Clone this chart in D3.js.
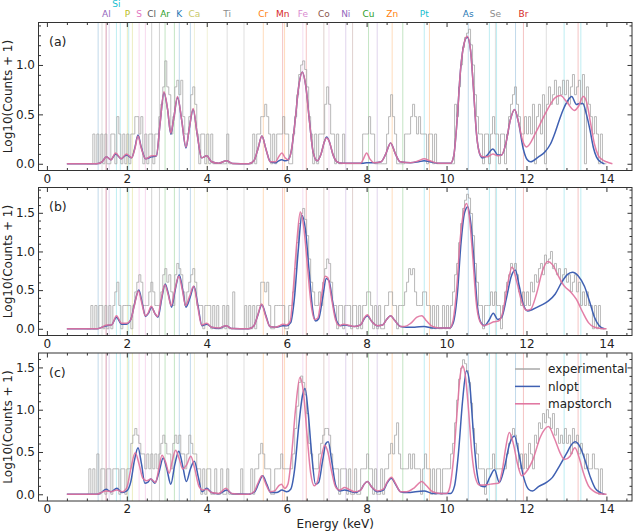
<!DOCTYPE html>
<html>
<head>
<meta charset="utf-8">
<script src="https://cdn.jsdelivr.net/npm/d3@7"></script>
<style>
  body { margin: 0; background: #fff; }
  svg text { font-family: "DejaVu Sans", sans-serif; }
</style>
</head>
<body>
<svg id="chart" width="640" height="532"></svg>
<script>

// experimental counts, 0.05 keV bins starting at 1.00 keV (one row per keV)
const binStart = 1.0
const binWidth = 0.05

const countsA = [
  0,0,0,1,0,1,0,1,0,1,0,0,1,1,0,2,1,0,1,0,
  1,0,1,1,2,2,1,2,0,1,0,1,1,0,1,1,2,3,5,10,
  5,4,1,2,5,6,4,6,2,1,1,2,4,5,3,1,0,1,1,0,
  1,0,1,0,0,0,0,0,0,0,1,0,0,0,0,0,0,0,0,0,
  0,0,0,1,0,1,1,2,2,3,2,1,0,1,0,1,1,1,2,1,
  1,0,0,1,2,4,7,9,10,8,5,2,1,0,1,0,1,1,1,3,
  5,3,1,1,0,1,0,0,1,0,0,0,0,0,0,0,0,0,1,1,
  1,2,1,1,0,0,0,0,0,0,1,2,4,2,1,0,0,0,0,1,
  1,1,2,3,2,1,2,1,1,1,0,1,1,0,1,0,0,0,0,0,
  0,0,0,0,3,2,5,9,14,18,20,22,15,9,4,2,1,1,0,1,
  1,0,1,2,1,1,0,1,1,0,1,2,3,4,5,3,2,1,1,2,
  1,2,1,3,0,2,3,1,4,0,3,5,3,4,6,3,5,4,6,4,
  6,3,5,7,4,5,6,3,7,0,5,3,2,1,2,1,0,1,0,0
]

const countsB = [
  0,0,1,0,1,0,1,1,0,1,0,1,0,1,2,3,1,0,1,1,
  1,1,0,1,2,3,4,3,1,1,1,2,3,2,1,1,1,2,4,5,
  3,4,2,1,4,6,5,4,2,1,2,3,4,5,3,1,1,1,0,1,
  1,1,0,1,0,1,0,0,1,0,1,0,0,2,0,0,0,0,0,1,
  0,1,0,1,0,1,1,3,3,2,3,1,0,0,1,1,1,1,1,0,
  0,1,1,2,5,12,22,30,35,25,15,7,3,2,1,1,2,1,3,5,
  7,6,3,1,1,0,1,1,0,1,1,1,0,1,1,0,1,0,1,1,
  2,2,1,0,1,0,1,0,0,1,1,2,2,1,1,0,1,1,1,2,
  3,5,4,5,2,1,1,1,2,2,1,1,0,1,0,1,0,0,1,0,
  1,0,1,2,4,6,12,22,35,45,54,48,30,15,6,3,1,1,0,1,
  1,1,2,1,2,1,1,0,1,2,3,4,6,5,6,4,2,1,2,1,
  2,1,3,2,4,3,5,6,4,8,6,7,9,5,6,4,5,3,4,5,
  3,4,2,3,4,2,3,1,2,1,2,1,1,0,1,0,1,0,0,0
]

const countsC = [
  0,1,0,1,0,2,0,1,1,0,1,1,0,1,1,1,0,1,1,0,
  1,1,3,4,5,4,3,2,2,1,2,1,2,1,2,1,2,3,4,3,
  2,2,1,3,4,3,4,2,2,1,2,4,3,2,2,1,1,0,1,0,
  1,1,0,0,1,0,0,1,0,0,1,0,0,0,0,0,0,1,0,0,
  0,0,1,0,1,1,2,3,2,1,1,1,0,0,1,1,1,2,1,1,
  1,1,1,2,5,10,20,24,20,14,8,3,2,1,1,1,2,3,4,5,
  5,4,2,1,1,1,0,1,1,1,0,1,0,0,1,0,0,1,1,1,
  2,1,1,0,1,0,0,1,0,1,1,2,3,2,4,6,2,1,1,1,
  1,2,1,2,1,1,1,0,1,2,1,1,0,1,0,1,1,0,1,1,
  1,1,2,3,6,12,22,30,38,34,28,20,11,5,3,2,1,1,1,0,
  1,1,1,2,1,1,1,1,1,1,2,3,4,5,4,3,1,2,1,2,
  1,3,2,1,4,3,6,5,8,6,9,7,5,8,4,5,3,4,3,5,
  3,4,2,5,3,4,2,3,2,1,2,1,1,2,1,1,0,1,0,0
]

// fitted spectra, [energy keV, log10(counts + 1)]
const nloptA = [[0.5,0],[1.25,0],[1.38,0.02],[1.49,0.07],[1.6,0.04],[1.72,0.1],[1.86,0.05],[1.99,0.09],[2.12,0.06],[2.2,0.16],[2.28,0.29],[2.36,0.17],[2.47,0.05],[2.62,0.07],[2.74,0.08],[2.83,0.4],[2.93,0.72],[3.02,0.55],[3.1,0.3],[3.17,0.45],[3.27,0.67],[3.37,0.45],[3.48,0.16],[3.56,0.35],[3.66,0.55],[3.76,0.3],[3.87,0.06],[4.0,0.08],[4.12,0.02],[4.3,0.005],[4.49,0.03],[4.65,0.003],[5.05,0],[5.18,0.03],[5.28,0.15],[5.38,0.28],[5.48,0.15],[5.59,0.02],[5.72,0.01],[5.8,0.03],[5.88,0.04],[5.96,0.03],[6.04,0.04],[6.12,0.14],[6.21,0.43],[6.3,0.78],[6.39,0.93],[6.48,0.78],[6.57,0.43],[6.66,0.12],[6.76,0.03],[6.86,0.1],[6.94,0.22],[7.0,0.27],[7.07,0.22],[7.16,0.09],[7.26,0.02],[7.4,0.005],[7.9,0.005],[8.0,0.01],[8.2,0.01],[8.36,0.02],[8.48,0.1],[8.6,0.21],[8.72,0.1],[8.84,0.02],[9.1,0.01],[9.3,0.02],[9.44,0.03],[9.58,0.02],[9.8,0.005],[10.1,0.005],[10.18,0.08],[10.26,0.42],[10.35,0.95],[10.44,1.22],[10.52,1.28],[10.6,1.15],[10.67,0.78],[10.75,0.3],[10.83,0.1],[10.9,0.06],[11.0,0.08],[11.16,0.15],[11.28,0.09],[11.38,0.09],[11.48,0.2],[11.6,0.45],[11.7,0.55],[11.8,0.42],[11.92,0.15],[12.02,0.04],[12.1,0.02],[12.3,0.07],[12.46,0.12],[12.6,0.2],[12.71,0.31],[12.82,0.44],[12.92,0.55],[13.02,0.63],[13.13,0.68],[13.25,0.6],[13.33,0.61],[13.41,0.61],[13.5,0.5],[13.59,0.34],[13.67,0.17],[13.75,0.07],[13.85,0.02],[13.95,0]]

const mapstorchA = [[0.5,0],[1.25,0],[1.38,0.02],[1.49,0.07],[1.6,0.04],[1.72,0.11],[1.86,0.05],[1.99,0.1],[2.12,0.06],[2.2,0.15],[2.28,0.28],[2.36,0.16],[2.47,0.05],[2.62,0.08],[2.74,0.08],[2.83,0.4],[2.93,0.73],[3.02,0.55],[3.1,0.31],[3.17,0.45],[3.27,0.68],[3.37,0.45],[3.48,0.17],[3.56,0.35],[3.66,0.56],[3.76,0.3],[3.87,0.06],[4.0,0.08],[4.12,0.02],[4.3,0.005],[4.49,0.03],[4.65,0.003],[5.05,0],[5.18,0.03],[5.28,0.15],[5.38,0.28],[5.48,0.15],[5.59,0.02],[5.72,0.02],[5.8,0.07],[5.88,0.11],[5.96,0.06],[6.04,0.04],[6.12,0.14],[6.21,0.43],[6.3,0.78],[6.39,0.93],[6.48,0.78],[6.57,0.43],[6.66,0.12],[6.76,0.03],[6.86,0.1],[6.94,0.22],[7.0,0.26],[7.07,0.22],[7.16,0.09],[7.26,0.02],[7.4,0.005],[7.85,0.005],[7.92,0.05],[8.0,0.11],[8.08,0.05],[8.2,0.01],[8.36,0.02],[8.48,0.1],[8.6,0.21],[8.72,0.1],[8.84,0.02],[9.1,0.01],[9.3,0.03],[9.44,0.05],[9.58,0.03],[9.8,0.005],[10.1,0.005],[10.18,0.08],[10.26,0.42],[10.35,0.95],[10.44,1.22],[10.52,1.29],[10.6,1.15],[10.67,0.78],[10.75,0.3],[10.83,0.1],[10.9,0.07],[11.02,0.07],[11.16,0.1],[11.28,0.08],[11.38,0.09],[11.48,0.2],[11.6,0.45],[11.7,0.55],[11.8,0.42],[11.9,0.24],[12.0,0.17],[12.25,0.33],[12.5,0.53],[12.72,0.67],[12.85,0.69],[13.0,0.63],[13.2,0.54],[13.3,0.58],[13.42,0.68],[13.5,0.63],[13.6,0.42],[13.7,0.2],[13.8,0.08],[13.9,0.04],[14.0,0.02],[14.15,0]]

const nloptB = [[0.5,0],[1.25,0],[1.38,0.02],[1.5,0.04],[1.62,0.05],[1.74,0.15],[1.87,0.06],[1.99,0.06],[2.1,0.12],[2.2,0.34],[2.3,0.5],[2.39,0.32],[2.47,0.16],[2.54,0.2],[2.62,0.28],[2.7,0.2],[2.78,0.15],[2.87,0.38],[2.96,0.58],[3.04,0.45],[3.12,0.28],[3.21,0.5],[3.31,0.7],[3.4,0.5],[3.48,0.28],[3.58,0.4],[3.68,0.55],[3.78,0.3],[3.88,0.04],[4.0,0.06],[4.12,0.02],[4.3,0.005],[4.49,0.04],[4.62,0.005],[5.05,0],[5.18,0.04],[5.28,0.18],[5.38,0.31],[5.48,0.17],[5.58,0.03],[5.72,0.02],[5.82,0.03],[5.9,0.04],[6.0,0.04],[6.1,0.08],[6.19,0.38],[6.29,1.02],[6.38,1.47],[6.47,1.28],[6.56,0.75],[6.65,0.25],[6.72,0.1],[6.8,0.13],[6.9,0.4],[6.99,0.65],[7.06,0.62],[7.15,0.35],[7.25,0.1],[7.35,0.04],[7.45,0.05],[7.55,0.04],[7.7,0.03],[7.85,0.05],[7.94,0.13],[8.02,0.17],[8.12,0.1],[8.27,0.04],[8.4,0.05],[8.5,0.12],[8.6,0.17],[8.7,0.11],[8.85,0.03],[9.0,0.02],[9.2,0.02],[9.44,0.03],[9.65,0.01],[10.08,0.01],[10.17,0.08],[10.27,0.45],[10.36,1.1],[10.45,1.5],[10.53,1.58],[10.61,1.35],[10.69,0.85],[10.77,0.3],[10.86,0.08],[10.95,0.04],[11.05,0.1],[11.17,0.2],[11.28,0.12],[11.38,0.15],[11.5,0.4],[11.62,0.68],[11.72,0.76],[11.82,0.55],[11.93,0.3],[12.03,0.23],[12.15,0.25],[12.35,0.3],[12.55,0.36],[12.72,0.45],[12.88,0.6],[13.02,0.7],[13.15,0.73],[13.3,0.68],[13.45,0.55],[13.58,0.35],[13.7,0.15],[13.82,0.04],[13.95,0]]

const mapstorchB = [[0.5,0],[1.25,0],[1.38,0.02],[1.5,0.05],[1.62,0.05],[1.74,0.17],[1.87,0.07],[1.99,0.07],[2.1,0.12],[2.2,0.33],[2.29,0.49],[2.38,0.32],[2.46,0.17],[2.53,0.2],[2.61,0.29],[2.7,0.2],[2.77,0.16],[2.86,0.38],[2.95,0.57],[3.03,0.45],[3.11,0.3],[3.2,0.5],[3.3,0.68],[3.39,0.5],[3.47,0.3],[3.57,0.42],[3.67,0.55],[3.77,0.3],[3.87,0.05],[4.0,0.07],[4.12,0.02],[4.3,0.01],[4.48,0.04],[4.62,0.005],[5.05,0],[5.18,0.04],[5.28,0.18],[5.37,0.32],[5.47,0.17],[5.58,0.03],[5.72,0.02],[5.82,0.04],[5.9,0.06],[6.0,0.05],[6.09,0.1],[6.16,0.48],[6.25,1.1],[6.34,1.51],[6.43,1.3],[6.52,0.8],[6.61,0.32],[6.7,0.12],[6.78,0.14],[6.87,0.42],[6.96,0.68],[7.03,0.66],[7.12,0.4],[7.22,0.12],[7.32,0.04],[7.42,0.06],[7.52,0.05],[7.7,0.03],[7.85,0.05],[7.94,0.14],[8.02,0.18],[8.12,0.1],[8.27,0.04],[8.4,0.05],[8.5,0.12],[8.6,0.17],[8.7,0.11],[8.85,0.03],[8.95,0.03],[9.1,0.07],[9.26,0.15],[9.38,0.17],[9.5,0.1],[9.65,0.03],[9.85,0.01],[10.08,0.01],[10.16,0.1],[10.25,0.5],[10.34,1.15],[10.43,1.52],[10.5,1.62],[10.58,1.4],[10.66,0.9],[10.74,0.35],[10.83,0.1],[10.93,0.04],[11.05,0.06],[11.18,0.09],[11.3,0.1],[11.4,0.2],[11.52,0.55],[11.64,0.8],[11.76,0.6],[11.88,0.35],[12.0,0.24],[12.1,0.25],[12.25,0.45],[12.4,0.75],[12.53,0.87],[12.65,0.83],[12.8,0.68],[12.95,0.55],[13.1,0.48],[13.25,0.38],[13.4,0.22],[13.55,0.08],[13.7,0.02],[13.85,0.005],[14.0,0]]

const nloptC = [[0.5,0],[1.25,0],[1.36,0.02],[1.48,0.06],[1.6,0.03],[1.75,0.07],[1.88,0.02],[2.0,0.04],[2.1,0.15],[2.19,0.4],[2.28,0.55],[2.37,0.35],[2.45,0.13],[2.52,0.14],[2.6,0.18],[2.7,0.13],[2.8,0.25],[2.91,0.43],[3.0,0.3],[3.1,0.12],[3.2,0.35],[3.3,0.51],[3.4,0.33],[3.49,0.15],[3.59,0.3],[3.69,0.39],[3.79,0.2],[3.88,0.03],[4.0,0.07],[4.12,0.02],[4.3,0.005],[4.5,0.05],[4.64,0.005],[5.05,0],[5.2,0.03],[5.3,0.13],[5.4,0.22],[5.5,0.12],[5.6,0.02],[5.75,0.02],[5.88,0.05],[6.0,0.03],[6.1,0.06],[6.2,0.3],[6.3,0.8],[6.4,1.18],[6.46,1.25],[6.54,0.95],[6.63,0.45],[6.72,0.12],[6.8,0.14],[6.9,0.4],[6.98,0.6],[7.04,0.62],[7.13,0.38],[7.23,0.1],[7.33,0.04],[7.45,0.05],[7.55,0.04],[7.7,0.02],[7.85,0.05],[7.94,0.12],[8.02,0.15],[8.12,0.09],[8.27,0.03],[8.42,0.05],[8.52,0.14],[8.62,0.19],[8.72,0.12],[8.85,0.03],[9.0,0.02],[9.44,0.04],[9.65,0.01],[10.1,0.01],[10.2,0.1],[10.3,0.5],[10.4,1.1],[10.5,1.46],[10.58,1.3],[10.66,0.8],[10.75,0.3],[10.85,0.1],[10.96,0.09],[11.08,0.2],[11.2,0.29],[11.32,0.14],[11.44,0.3],[11.58,0.6],[11.7,0.69],[11.8,0.5],[11.93,0.2],[12.05,0.06],[12.15,0.04],[12.3,0.09],[12.5,0.14],[12.65,0.2],[12.82,0.33],[13.0,0.48],[13.15,0.6],[13.22,0.62],[13.35,0.55],[13.48,0.38],[13.6,0.2],[13.72,0.07],[13.85,0.02],[13.95,0]]

const mapstorchC = [[0.5,0],[1.25,0],[1.36,0.02],[1.48,0.04],[1.6,0.03],[1.75,0.05],[1.88,0.03],[2.0,0.08],[2.1,0.3],[2.21,0.49],[2.31,0.35],[2.4,0.19],[2.5,0.16],[2.6,0.18],[2.72,0.14],[2.8,0.3],[2.88,0.46],[2.97,0.38],[3.06,0.25],[3.14,0.4],[3.22,0.52],[3.31,0.42],[3.4,0.3],[3.5,0.35],[3.6,0.45],[3.7,0.3],[3.8,0.1],[3.9,0.05],[4.0,0.06],[4.12,0.02],[4.3,0.01],[4.48,0.07],[4.62,0.01],[5.05,0],[5.18,0.03],[5.28,0.13],[5.38,0.22],[5.48,0.12],[5.58,0.03],[5.7,0.04],[5.8,0.1],[5.87,0.12],[5.95,0.07],[6.03,0.12],[6.12,0.45],[6.22,1.0],[6.33,1.38],[6.42,1.2],[6.51,0.7],[6.6,0.25],[6.69,0.1],[6.77,0.15],[6.86,0.42],[6.95,0.58],[7.03,0.5],[7.12,0.28],[7.22,0.09],[7.32,0.05],[7.45,0.08],[7.55,0.06],[7.7,0.03],[7.85,0.05],[7.94,0.12],[8.02,0.15],[8.12,0.09],[8.27,0.04],[8.42,0.06],[8.52,0.15],[8.62,0.2],[8.72,0.13],[8.85,0.03],[9.0,0.03],[9.2,0.08],[9.38,0.15],[9.5,0.1],[9.65,0.03],[9.85,0.01],[10.0,0.01],[10.08,0.08],[10.17,0.4],[10.26,0.95],[10.34,1.4],[10.4,1.52],[10.47,1.4],[10.55,1.0],[10.63,0.5],[10.72,0.2],[10.82,0.11],[10.95,0.11],[11.1,0.12],[11.3,0.13],[11.4,0.3],[11.48,0.55],[11.57,0.73],[11.67,0.6],[11.78,0.35],[11.88,0.22],[12.0,0.27],[12.16,0.41],[12.35,0.68],[12.55,0.8],[12.7,0.66],[12.85,0.48],[12.95,0.41],[13.09,0.45],[13.21,0.55],[13.32,0.43],[13.42,0.26],[13.55,0.1],[13.67,0.04],[13.8,0.01],[14.0,0]]

// element emission lines (keV), first line is where the label goes
const elementNames = ["Al","Si","P","S","Cl","Ar","K","Ca","Ti","Cr","Mn","Fe","Co","Ni","Cu","Zn","Pt","As","Se","Br"]
const elementColors = ["#9467bd","#17becf","#bcbd22","#e377c2","#595959","#2ca02c","#1f77b4","#c9c96a","#8c8c8c","#ff7f0e","#d62728","#d98ad0","#8c564b","#9467bd","#2ca02c","#ff7f0e","#17becf","#1f77b4","#8c8c8c","#d62728"]
const elementLines = [
  [1.487,1.557],[1.740,1.836],[2.013,2.139],[2.307,2.464],[2.622,2.816],
  [2.957,3.190],[3.313,3.590],[3.691,4.013],[4.511,4.932],[5.415,5.947],
  [5.899,6.490],[6.404,7.058],[6.930,7.649],[7.478,8.265],[8.048,8.905],
  [8.639,9.572],[9.442,2.048,11.071,11.251,12.942,13.36],[10.543,1.282,11.726],
  [11.222,1.379,12.496],[11.924,1.480,13.291]
]

const panelLabels = ["(a)","(b)","(c)"]
const seriesNames = ["experimental","nlopt","mapstorch"]
const seriesColors = ["#a8a8a8","#3f60b2","#e0719d"]

const panels = [
  {counts: countsA, nlopt: nloptA, mapstorch: mapstorchA},
  {counts: countsB, nlopt: nloptB, mapstorch: mapstorchB},
  {counts: countsC, nlopt: nloptC, mapstorch: mapstorchC}
]

// layout
const plotLeft = 38.5, plotRight = 632
const panelTops = [22.5, 187.5, 353]
const panelH = 148

const svg = d3.select("#chart")

const x = d3.scaleLinear()
  .domain([-0.21, 14.64])
  .range([plotLeft, plotRight])

// element labels on top
elementNames.forEach(function(name, i) {
  svg.append("text")
    .attr("x", x(elementLines[i][0]))
    .attr("y", name == "Si" ? 6.5 : 17.3)
    .attr("text-anchor", "middle")
    .attr("font-size", 9)
    .attr("fill", elementColors[i])
    .text(name)
})

panels.forEach(function(p, k) {

  var top = panelTops[k]
  var bottom = top + panelH
  var logs = p.counts.map(c => Math.log10(c + 1))
  var ymax = d3.max(logs.concat(p.nlopt.map(d => d[1]), p.mapstorch.map(d => d[1])))

  var y = d3.scaleLinear()
    .domain([-0.05 * ymax, 1.05 * ymax])
    .range([bottom, top])

  var g = svg.append("g")

  // faint element lines
  elementLines.forEach(function(lines, i) {
    g.selectAll(null)
      .data(lines)
      .enter().append("line")
        .attr("x1", d => x(d)).attr("x2", d => x(d))
        .attr("y1", top).attr("y2", bottom)
        .attr("stroke", elementColors[i])
        .attr("stroke-opacity", 0.28)
        .attr("stroke-width", 1)
  })

  // experimental step spectrum
  var expPts = logs.map((v, i) => [binStart + i * binWidth, v])
  expPts.push([binStart + logs.length * binWidth, 0])

  var stepLine = d3.line()
    .x(d => x(d[0]))
    .y(d => y(d[1]))
    .curve(d3.curveStepAfter)

  g.append("path")
    .attr("d", stepLine(expPts))
    .attr("fill", "none")
    .attr("stroke", seriesColors[0])
    .attr("stroke-width", 1)
    .attr("stroke-opacity", 0.8)

  var fitLine = d3.line()
    .x(d => x(d[0]))
    .y(d => y(d[1]))
    .curve(d3.curveMonotoneX)

  g.append("path")
    .attr("d", fitLine(p.nlopt))
    .attr("fill", "none")
    .attr("stroke", seriesColors[1])
    .attr("stroke-width", 1.5)

  g.append("path")
    .attr("d", fitLine(p.mapstorch))
    .attr("fill", "none")
    .attr("stroke", seriesColors[2])
    .attr("stroke-width", 1.5)
    .attr("stroke-opacity", 0.9)

  // axes, ticks pointing inward on all sides
  var xMajor = d3.range(0, 14.01, 2)
  var xMinor = d3.range(0, 14.51, 0.5).filter(v => Math.abs(v % 2) > 0.01)
  var yMajor = d3.range(0, ymax * 1.05, 0.5)
  var yMinor = d3.range(0, ymax * 1.05, 0.1).filter(v => Math.abs(v / 0.5 - Math.round(v / 0.5)) > 0.01)

  var axes = [
    [d3.axisBottom(x).tickValues(xMajor).tickFormat(d3.format("d")).tickSizeInner(-4.5), "translate(0," + bottom + ")"],
    [d3.axisBottom(x).tickValues(xMinor).tickFormat("").tickSizeInner(-2.5), "translate(0," + bottom + ")"],
    [d3.axisTop(x).tickValues(xMajor).tickFormat("").tickSizeInner(-4.5), "translate(0," + top + ")"],
    [d3.axisTop(x).tickValues(xMinor).tickFormat("").tickSizeInner(-2.5), "translate(0," + top + ")"],
    [d3.axisLeft(y).tickValues(yMajor).tickFormat(d3.format(".1f")).tickSizeInner(-4.5), "translate(" + plotLeft + ",0)"],
    [d3.axisLeft(y).tickValues(yMinor).tickFormat("").tickSizeInner(-2.5), "translate(" + plotLeft + ",0)"],
    [d3.axisRight(y).tickValues(yMajor).tickFormat("").tickSizeInner(-4.5), "translate(" + plotRight + ",0)"],
    [d3.axisRight(y).tickValues(yMinor).tickFormat("").tickSizeInner(-2.5), "translate(" + plotRight + ",0)"]
  ]

  axes.forEach(function(a) {
    var ag = g.append("g")
      .attr("transform", a[1])
      .call(a[0].tickSizeOuter(0).tickPadding(3.5))
    ag.select(".domain").remove()
    ag.selectAll("line").attr("stroke", "#333")
    ag.selectAll("text")
      .attr("font-family", "DejaVu Sans, sans-serif")
      .attr("font-size", 12)
      .attr("fill", "#222")
  })

  g.append("rect")
    .attr("x", plotLeft).attr("y", top)
    .attr("width", plotRight - plotLeft).attr("height", panelH)
    .attr("fill", "none")
    .attr("stroke", "#333")
    .attr("stroke-width", 1)

  g.append("text")
    .attr("x", 49)
    .attr("y", top + 23.5)
    .attr("font-size", 12.5)
    .attr("fill", "#222")
    .text(panelLabels[k])

  g.append("text")
    .attr("transform", "translate(11.5," + (top + panelH / 2) + ") rotate(-90)")
    .attr("text-anchor", "middle")
    .attr("font-size", 12)
    .attr("fill", "#222")
    .text("Log10(Counts + 1)")

  // legend in the last panel
  if (k == 2) {
    seriesNames.forEach(function(name, i) {
      var ly = top + 16 + i * 17.4
      g.append("line")
        .attr("x1", 515).attr("x2", 540)
        .attr("y1", ly).attr("y2", ly)
        .attr("stroke", seriesColors[i])
        .attr("stroke-width", 1.5)
      g.append("text")
        .attr("x", 548)
        .attr("y", ly + 4.3)
        .attr("font-size", 12)
        .attr("fill", "#222")
        .text(name)
    })
  }

})

svg.append("text")
  .attr("x", (plotLeft + plotRight) / 2)
  .attr("y", 528)
  .attr("text-anchor", "middle")
  .attr("font-size", 12)
  .attr("fill", "#222")
  .text("Energy (keV)")

</script>
</body>
</html>
